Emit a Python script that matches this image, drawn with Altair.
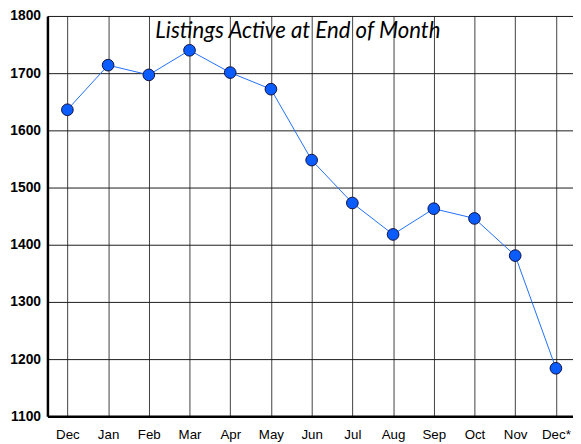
import json
import altair as alt
import pandas as pd

months = ["Dec", "Jan", "Feb", "Mar", "Apr", "May", "Jun", "Jul", "Aug", "Sep", "Oct", "Nov", "Dec*"]
listings = [1636, 1714, 1697, 1740, 1701, 1672, 1548, 1473, 1418, 1463, 1446, 1381, 1184]
y_ticks = [1100, 1200, 1300, 1400, 1500, 1600, 1700, 1800]
subtitle = "Listings Active at End of Month"

df = pd.DataFrame({"idx": list(range(len(months))), "month": months, "listings": listings})

label_expr = json.dumps(months) + "[datum.value]"

x_enc = alt.X(
    "idx:Q",
    scale=alt.Scale(domain=[-0.49, 12.42], nice=False, zero=False),
    axis=alt.Axis(
        values=list(range(len(months))),
        labelExpr=label_expr,
        title=None,
        grid=True,
        gridColor="#404040",
        gridWidth=1,
        gridOpacity=1,
        ticks=False,
        domain=True,
        domainColor="black",
        domainWidth=2.5,
        labelFont="Liberation Sans",
        labelFontSize=13.5,
        labelColor="black",
        labelPadding=12,
        labelBaseline="top",
    ),
)
y_enc = alt.Y(
    "listings:Q",
    scale=alt.Scale(domain=[1100, 1800], nice=False, zero=False),
    axis=alt.Axis(
        values=y_ticks,
        format="d",
        title=None,
        grid=True,
        gridColor="#1a1a1a",
        gridWidth=1,
        gridOpacity=1,
        ticks=False,
        domain=True,
        domainColor="black",
        domainWidth=2.5,
        labelFont="Liberation Sans",
        labelFontWeight="bold",
        labelFontSize=14,
        labelColor="black",
        labelPadding=7,
    ),
)

base = alt.Chart(df).encode(x=x_enc, y=y_enc)
line = base.mark_line(color="#1f6fff", strokeWidth=1)
points = base.mark_point(
    filled=True, fill="#0a5cff", stroke="#101040", strokeWidth=1, size=140, opacity=1
)

sub = alt.Chart(pd.DataFrame({"t": [subtitle]})).mark_text(
    font="Lato",
    fontStyle="italic",
    fontSize=22.5,
    color="black",
    align="center",
    baseline="alphabetic",
).encode(text="t:N", x=alt.value(254), y=alt.value(22))

chart = (
    alt.layer(line, points, sub)
    .properties(
        width=533,
        height=406,
        padding={"left": 40, "top": 5, "right": 0, "bottom": 25},
        autosize=alt.AutoSizeParams(type="none"),
    )
    .configure_view(stroke=None)
    .configure(background="white")
)

chart.save("out.html", embed_options={"renderer": "svg", "actions": False})
